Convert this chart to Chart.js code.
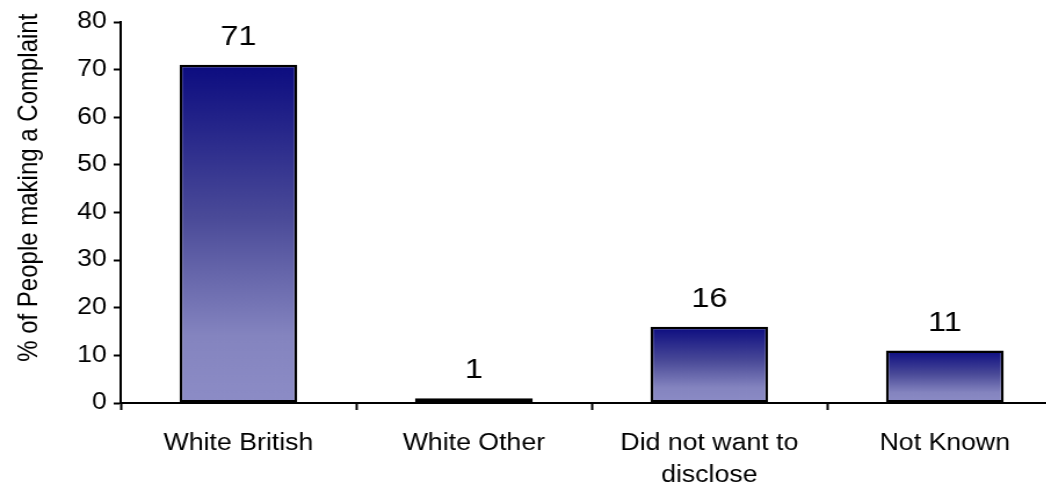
<!DOCTYPE html>
<html>
<head>
<meta charset="utf-8">
<script src="https://cdn.jsdelivr.net/npm/chart.js@4.4.1/dist/chart.umd.min.js"></script>
<style>
    html, body { margin: 0; padding: 0; background: #fff; overflow: hidden; }
    /* the whole plot is drawn slightly wide, like the exported original */
    #wrap { width: 920px; height: 483px; transform: scaleX(1.16); transform-origin: 0 0; }
</style>
</head>
<body>
<div id="wrap"><canvas id="ethnicityChart" width="920" height="483"></canvas></div>
<script>
const categories = ['White British', 'White Other', ['Did not want to', 'disclose'], 'Not Known'];
const complaintPct = [71, 1, 16, 11];
const yTicks = [0, 10, 20, 30, 40, 50, 60, 70, 80];
const yTitle = '% of People making a Complaint';

const FONT = "'Liberation Sans', Arial, sans-serif";

// each bar gets its own dark-to-light fade from its top edge down to the axis
function barFill(context) {
    const chart = context.chart;
    const area = chart.chartArea;
    if (!area) return '#8a8ac4';
    const y = chart.scales.y;
    const top = y.getPixelForValue(context.raw);
    const bottom = y.getPixelForValue(0);
    if (bottom - top < 1) return '#8a8ac4';
    const g = chart.ctx.createLinearGradient(0, top, 0, bottom);
    g.addColorStop(0, '#0c0c80');
    g.addColorStop(0.45, '#4a4a98');
    g.addColorStop(0.8, '#8484bf');
    g.addColorStop(1, '#8c8cc6');
    return g;
}

// value printed above every bar
const valueLabels = {
    id: 'valueLabels',
    afterDatasetsDraw(chart) {
        const ctx = chart.ctx;
        const meta = chart.getDatasetMeta(0);
        ctx.save();
        ctx.font = '28px ' + FONT;
        ctx.fillStyle = '#000';
        ctx.textAlign = 'center';
        ctx.textBaseline = 'alphabetic';
        meta.data.forEach((bar, i) => {
            ctx.fillText(String(complaintPct[i]), bar.x, bar.y - 20);
        });
        ctx.restore();
    }
};

// rotated y title, sitting a little above the middle of the axis
const axisTitle = {
    id: 'axisTitle',
    afterDraw(chart) {
        const ctx = chart.ctx;
        const area = chart.chartArea;
        ctx.save();
        ctx.translate(25, area.top + (area.bottom - area.top) * 0.435);
        ctx.rotate(-Math.PI / 2);
        ctx.font = '24px ' + FONT;
        ctx.fillStyle = '#000';
        ctx.textAlign = 'center';
        ctx.textBaseline = 'middle';
        ctx.fillText(yTitle, 0, 0);
        ctx.restore();
    }
};

const ctx = document.getElementById('ethnicityChart').getContext('2d');

new Chart(ctx, {
    type: 'bar',
    data: {
        labels: categories,
        datasets: [{
            data: complaintPct,
            backgroundColor: barFill,
            borderColor: '#000',
            borderWidth: 2.5,
            borderSkipped: false,
            barPercentage: 0.5,
            categoryPercentage: 1
        }]
    },
    options: {
        responsive: false,
        animation: false,
        devicePixelRatio: 1,
        layout: { padding: { top: 22, right: 4, left: 0, bottom: 0 } },
        plugins: {
            legend: { display: false },
            tooltip: { enabled: false }
        },
        scales: {
            x: {
                offset: true,
                border: { color: '#000', width: 2 },
                grid: {
                    offset: true,
                    drawOnChartArea: false,
                    drawTicks: true,
                    tickLength: 7,
                    tickWidth: 2,
                    tickColor: '#000'
                },
                ticks: {
                    color: '#000',
                    padding: 17,
                    maxRotation: 0,
                    autoSkip: false,
                    font: { family: FONT, size: 23, lineHeight: 1.42 }
                },
                afterFit(scale) { scale.height = 80; }
            },
            y: {
                min: 0,
                max: 80,
                border: { color: '#000', width: 2 },
                grid: {
                    drawOnChartArea: false,
                    drawTicks: true,
                    tickLength: 6,
                    tickWidth: 2,
                    tickColor: '#000'
                },
                afterBuildTicks(scale) {
                    scale.ticks = yTicks.map(v => ({ value: v }));
                },
                ticks: {
                    color: '#000',
                    padding: 6,
                    font: { family: FONT, size: 23 }
                },
                afterFit(scale) { scale.width = 104; }
            }
        }
    },
    plugins: [valueLabels, axisTitle]
});
</script>
</body>
</html>
